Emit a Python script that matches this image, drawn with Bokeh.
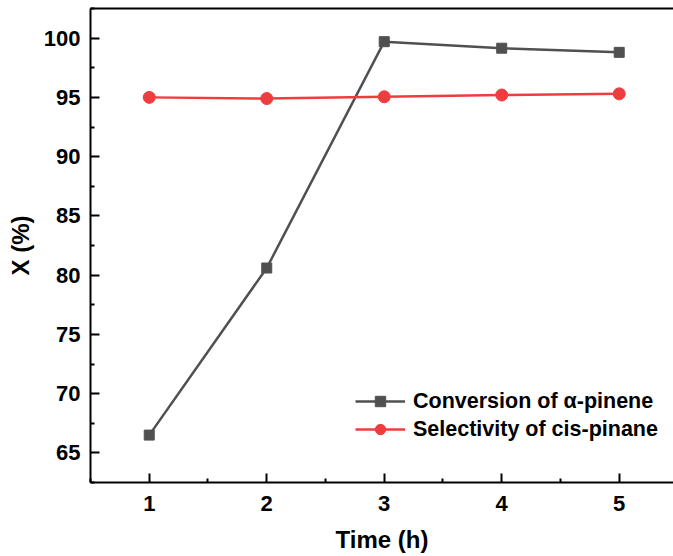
from bokeh.plotting import figure
from bokeh.models import Range1d, FixedTicker, LinearAxis, Legend, LegendItem
from bokeh.embed import file_html
from bokeh.resources import INLINE

time_h = [1, 2, 3, 4, 5]
conversion = [66.5, 80.6, 99.7, 99.15, 98.8]
selectivity = [95.0, 94.9, 95.05, 95.2, 95.3]
x_ticks = [1, 2, 3, 4, 5]
x_minor = [0.5, 1.5, 2.5, 3.5, 4.5, 5.5]
y_ticks = [65, 70, 75, 80, 85, 90, 95, 100]
y_minor = [62.5, 67.5, 72.5, 77.5, 82.5, 87.5, 92.5, 97.5, 102.5]

GRAY = "#505050"
RED = "#ef3d3f"
FONT = "Liberation Sans"

p = figure(width=673, height=556, output_backend="svg", toolbar_location=None,
           x_range=Range1d(0.5, 5.462), y_range=Range1d(62.5, 102.5),
           min_border_left=90, min_border_right=0, min_border_top=8,
           min_border_bottom=74, x_axis_label="Time (h)", y_axis_label="X (%)")
p.outline_line_color = None
p.grid.visible = False
p.background_fill_color = "white"
p.border_fill_color = "white"

for ax, ticks, minor in ((p.xaxis[0], x_ticks, x_minor), (p.yaxis[0], y_ticks, y_minor)):
    ax.ticker = FixedTicker(ticks=ticks, minor_ticks=minor)
    ax.axis_line_width = 2
    ax.axis_line_color = "black"
    ax.major_tick_in = 9
    ax.major_tick_out = 0
    ax.minor_tick_in = 4
    ax.minor_tick_out = 0
    ax.major_tick_line_width = 2
    ax.minor_tick_line_width = 2
    ax.major_label_text_font = FONT
    ax.major_label_text_font_style = "bold"
    ax.major_label_text_font_size = "22px"
    ax.major_label_text_color = "black"
    ax.axis_label_text_font = FONT
    ax.axis_label_text_font_style = "bold"
    ax.axis_label_text_font_size = "24px"
    ax.axis_label_text_color = "black"

p.xaxis[0].major_label_standoff = 13
p.xaxis[0].axis_label_standoff = 12
p.yaxis[0].major_label_standoff = 10
p.yaxis[0].axis_label_standoff = 7

top = LinearAxis(ticker=FixedTicker(ticks=[]), major_label_text_font_size="0px",
                 axis_line_width=2, axis_line_color="black",
                 major_tick_in=0, major_tick_out=0, minor_tick_in=0, minor_tick_out=0)
p.add_layout(top, "above")

l1 = p.line(time_h, conversion, line_color=GRAY, line_width=2.5)
m1 = p.scatter(time_h, conversion, marker="square", size=10, fill_color=GRAY, line_color=GRAY)
l2 = p.line(time_h, selectivity, line_color=RED, line_width=2.5)
m2 = p.scatter(time_h, selectivity, marker="circle", size=12, fill_color=RED, line_color=RED)

legend = Legend(items=[LegendItem(label="Conversion of α-pinene", renderers=[l1, m1]),
                       LegendItem(label="Selectivity of cis-pinane", renderers=[l2, m2])],
                location=(265, 40), border_line_color=None, background_fill_alpha=0,
                padding=0, margin=0, spacing=2, glyph_width=50, glyph_height=26,
                label_height=26, label_standoff=8,
                label_text_font=FONT, label_text_font_style="bold",
                label_text_font_size="21.5px", label_text_color="black")
p.add_layout(legend, "center")

open("out.html", "w").write(file_html(p, INLINE))
